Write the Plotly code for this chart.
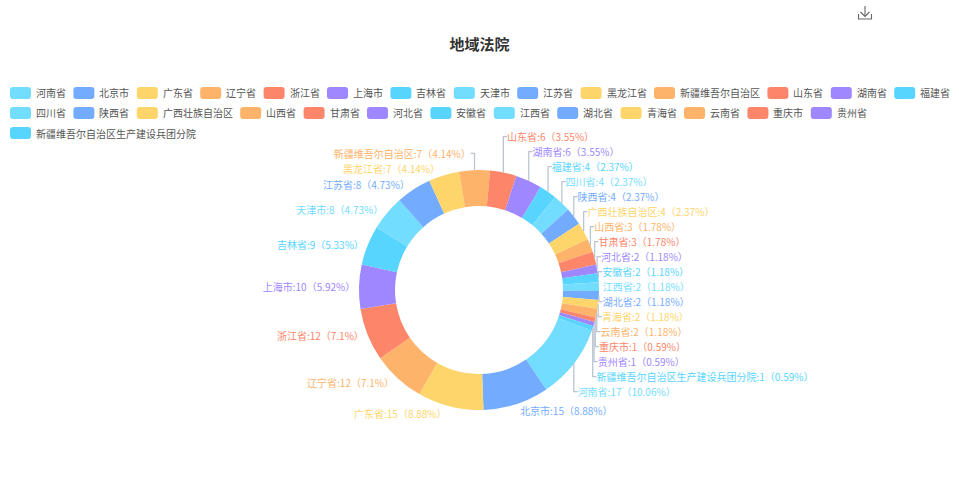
import plotly.graph_objects as go

title_text = "地域法院"
regions = ["河南省", "北京市", "广东省", "辽宁省", "浙江省", "上海市", "吉林省", "天津市",
           "江苏省", "黑龙江省", "新疆维吾尔自治区", "山东省", "湖南省", "福建省", "四川省",
           "陕西省", "广西壮族自治区", "山西省", "甘肃省", "河北省", "安徽省", "江西省",
           "湖北省", "青海省", "云南省", "重庆市", "贵州省", "新疆维吾尔自治区生产建设兵团分院"]
counts = [17, 15, 15, 12, 12, 10, 9, 8, 8, 7, 7, 6, 6, 4, 4, 4, 4, 3, 3, 2, 2, 2, 2, 2, 2, 1, 1, 1]
palette = ["#73DDFF", "#73ACFF", "#FDD56A", "#FDB36A", "#FD866A", "#9E87FF", "#58D5FF"]

W, H = 959, 500
FS = 10  # text size

total = sum(counts)
colors = [palette[i % len(palette)] for i in range(len(regions))]
label_text = ["<span style='color:{}'>{}:{}（{:g}%）</span>".format(col, r, c, round(c / total * 100, 2))
              for r, c, col in zip(regions, counts, colors)]


def px(x):
    return x / W


def py(y):
    return 1 - y / H


cx, cy, R = 479, 290, 120

fig = go.Figure(go.Pie(
    labels=regions,
    values=counts,
    text=label_text,
    textinfo="text",
    textposition="outside",
    textfont=dict(size=FS, family="Noto Sans CJK SC"),
    outsidetextfont=dict(size=FS, color="#b8c4d0", family="Noto Sans CJK SC"),
    marker=dict(colors=colors, line=dict(width=0)),
    hole=0.7,
    sort=False,
    direction="clockwise",
    rotation=109.7,
    automargin=False,
    showlegend=False,
    domain=dict(x=[px(cx - R), px(cx + R)], y=[py(cy + R), py(cy - R)]),
    hoverinfo="label+value+percent",
))

# ---- legend (flow layout like the original) ----
icon_w, icon_h, icon_gap, item_gap, row_h = 21, 12, 4, 8.4, 20
lx0, ly0, lmax = 10, 93, W - 8


def rrect(x0, y0, x1, y1, r):
    pts = [("M", [(x0 + r, y0)]), ("L", [(x1 - r, y0)]), ("Q", [(x1, y0), (x1, y0 + r)]),
           ("L", [(x1, y1 - r)]), ("Q", [(x1, y1), (x1 - r, y1)]), ("L", [(x0 + r, y1)]),
           ("Q", [(x0, y1), (x0, y1 - r)]), ("L", [(x0, y0 + r)]), ("Q", [(x0, y0), (x0 + r, y0)])]
    s = ""
    for cmd, ps in pts:
        s += cmd + " " + " ".join(f"{px(a):.6f},{py(b):.6f}" for a, b in ps) + " "
    return s + "Z"


x, y = lx0, ly0
for name, col in zip(regions, colors):
    w = icon_w + icon_gap + len(name) * FS
    if x + w > lmax:
        x = lx0
        y += row_h
    fig.add_shape(type="path", xref="paper", yref="paper", path=rrect(x, y - icon_h / 2, x + icon_w, y + icon_h / 2, 3),
                  fillcolor=col, line=dict(width=0), layer="above")
    fig.add_annotation(x=px(x + icon_w + icon_gap - 1), y=py(y), xref="paper", yref="paper", text=name,
                       showarrow=False, xanchor="left", yanchor="middle",
                       font=dict(size=FS, color="#555", family="Noto Sans CJK SC"))
    x += w + item_gap

# toolbox save icon (decoration)
icon = dict(color="#666", width=1.1)
fig.add_shape(type="line", xref="paper", yref="paper", x0=px(865), x1=px(865), y0=py(6), y1=py(16), line=icon)
fig.add_shape(type="path", xref="paper", yref="paper",
              path=f"M {px(860.5)},{py(12)} L {px(865)},{py(16.5)} L {px(869.5)},{py(12)}", line=icon)
fig.add_shape(type="path", xref="paper", yref="paper",
              path=f"M {px(858.5)},{py(14)} L {px(858.5)},{py(19)} L {px(871.5)},{py(19)} L {px(871.5)},{py(14)}", line=icon)

fig.update_layout(
    width=W, height=H,
    margin=dict(l=0, r=0, t=0, b=0),
    paper_bgcolor="white",
    plot_bgcolor="white",
    font=dict(family="Noto Sans CJK SC", size=FS, color="#555"),
    title=dict(text="<b>" + title_text + "</b>", x=0.5, xanchor="center", y=py(45), yanchor="middle",
               font=dict(size=15, color="#333", family="Noto Sans CJK SC")),
    showlegend=False,
)

fig.write_html("out.html", config={"displayModeBar": False},
               post_script="document.body.style.margin='0px';")
